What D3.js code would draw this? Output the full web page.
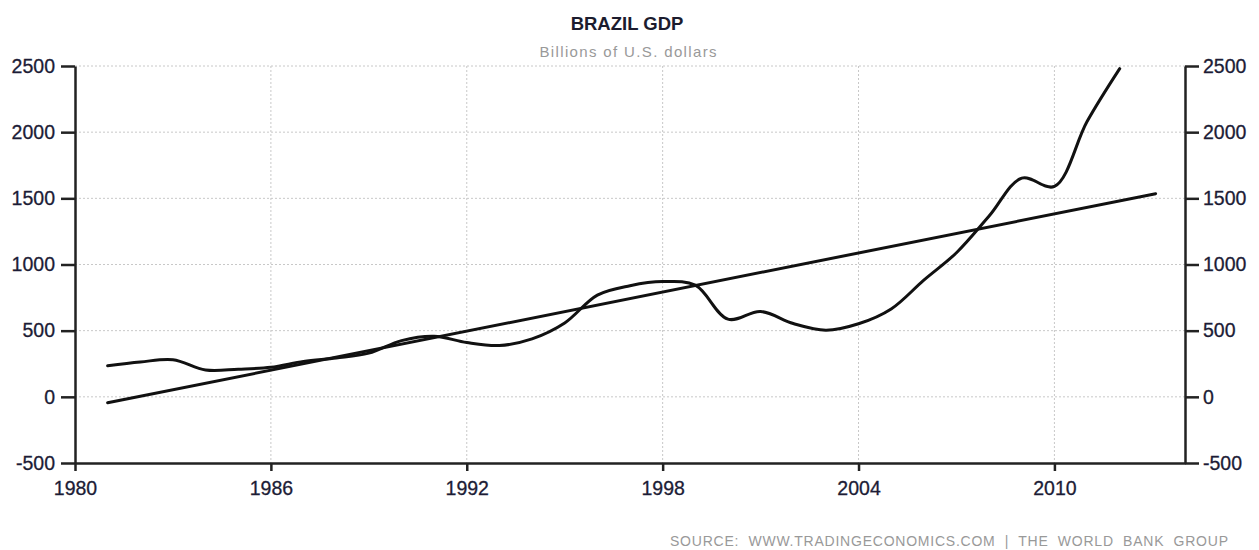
<!DOCTYPE html>
<html>
<head>
  <meta charset="utf-8" />
  <title>Brazil GDP</title>
  <script src="https://d3js.org/d3.v7.min.js"></script>
  <style>
    body { margin: 0; background: #fff; }
    svg { display: block; }
    .tick text { font-family: "Liberation Sans", sans-serif; font-size: 19.5px; fill: #1c1c36; stroke: #1c1c36; stroke-width: 0.3px; }
    .grid line { stroke: #c8c8c8; stroke-dasharray: 2,2; }
  </style>
</head>
<body>
  <svg width="1259" height="550"></svg>
  <script>
    // GDP curve, as plotted on the chart (x position = year)
    const years = [1981, 1982, 1983, 1984, 1985, 1986, 1987, 1988, 1989, 1990,
                   1991, 1992, 1993, 1994, 1995, 1996, 1997, 1998, 1999, 2000,
                   2001, 2002, 2003, 2004, 2005, 2006, 2007, 2008, 2009, 2010,
                   2011, 2012];
    const gdp = [235, 263, 281, 203, 209, 223, 268, 294, 330, 425,
                 458, 410, 388, 438, 558, 769, 840, 871, 844, 587,
                 645, 554, 504, 552, 664, 882, 1089, 1366, 1653, 1590,
                 2080, 2480];
    // linear trend line endpoints
    const trendYears = [1981, 2013.1];
    const trendValues = [-45, 1535];

    const xTicks = [1980, 1986, 1992, 1998, 2004, 2010];
    const yTicks = [-500, 0, 500, 1000, 1500, 2000, 2500];

    const svg = d3.select("svg");
    const margin = { top: 66, right: 74, bottom: 87, left: 75 };
    const width = 1259, height = 550;
    const innerWidth = width - margin.left - margin.right;
    const innerHeight = height - margin.top - margin.bottom;

    const x = d3.scaleLinear().domain([1980, 2014]).range([0, innerWidth]);
    const y = d3.scaleLinear().domain([-500, 2500]).range([innerHeight, 0]);
    const plain = d => String(d);

    const g = svg.append("g").attr("transform", `translate(${margin.left},${margin.top})`);

    // grid
    g.append("g").attr("class", "grid")
      .selectAll("line").data(yTicks.filter(d => d > -500)).join("line")
      .attr("x1", 0).attr("x2", innerWidth)
      .attr("y1", d => y(d)).attr("y2", d => y(d));
    g.append("g").attr("class", "grid")
      .selectAll("line").data(xTicks.filter(d => d > 1980)).join("line")
      .attr("x1", d => x(d)).attr("x2", d => x(d))
      .attr("y1", 0).attr("y2", innerHeight);

    // axes
    const styleAxis = sel => {
      sel.select(".domain").attr("stroke", "#222").attr("stroke-width", 2.5);
      sel.selectAll(".tick line").attr("stroke", "#222").attr("stroke-width", 2.5);
    };
    g.append("g")
      .call(d3.axisLeft(y).tickValues(yTicks).tickFormat(plain).tickSize(14).tickSizeOuter(0).tickPadding(6))
      .call(styleAxis);
    g.append("g").attr("transform", `translate(${innerWidth},0)`)
      .call(d3.axisRight(y).tickValues(yTicks).tickFormat(plain).tickSize(14).tickSizeOuter(0).tickPadding(4))
      .call(styleAxis);
    g.append("g").attr("transform", `translate(0,${innerHeight})`)
      .call(d3.axisBottom(x).tickValues(xTicks).tickFormat(plain).tickSize(8).tickSizeOuter(0).tickPadding(10))
      .call(styleAxis);

    // lines
    const pts = years.map((yr, i) => [yr, gdp[i]]);
    const line = d3.line().x(d => x(d[0])).y(d => y(d[1])).curve(d3.curveCatmullRom.alpha(0.5));
    g.append("path").datum(pts)
      .attr("d", line).attr("fill", "none").attr("stroke", "#111").attr("stroke-width", 3)
      .attr("stroke-linejoin", "round").attr("stroke-linecap", "round");

    const trend = trendYears.map((yr, i) => [yr, trendValues[i]]);
    g.append("path").datum(trend)
      .attr("d", d3.line().x(d => x(d[0])).y(d => y(d[1])))
      .attr("fill", "none").attr("stroke", "#111").attr("stroke-width", 3)
      .attr("stroke-linecap", "round");

    // titles
    svg.append("text").attr("x", 627).attr("y", 30).attr("text-anchor", "middle")
      .style("font-family", "Liberation Sans, sans-serif").style("font-size", "18.5px")
      .style("font-weight", "bold").style("fill", "#1c1c2e").text("BRAZIL GDP");
    svg.append("text").attr("x", 628).attr("y", 57).attr("text-anchor", "middle")
      .style("font-family", "Liberation Sans, sans-serif").style("font-size", "15px")
      .attr("textLength", 177).attr("lengthAdjust", "spacing")
      .style("fill", "#999").text("Billions of U.S. dollars");
    svg.append("text").attr("x", 670).attr("y", 546)
      .style("font-family", "Liberation Sans, sans-serif").style("font-size", "14px")
      .style("white-space", "pre")
      .attr("textLength", 558).attr("lengthAdjust", "spacing")
      .style("fill", "#999").text("SOURCE:  WWW.TRADINGECONOMICS.COM  |  THE  WORLD  BANK  GROUP");
  </script>
</body>
</html>
